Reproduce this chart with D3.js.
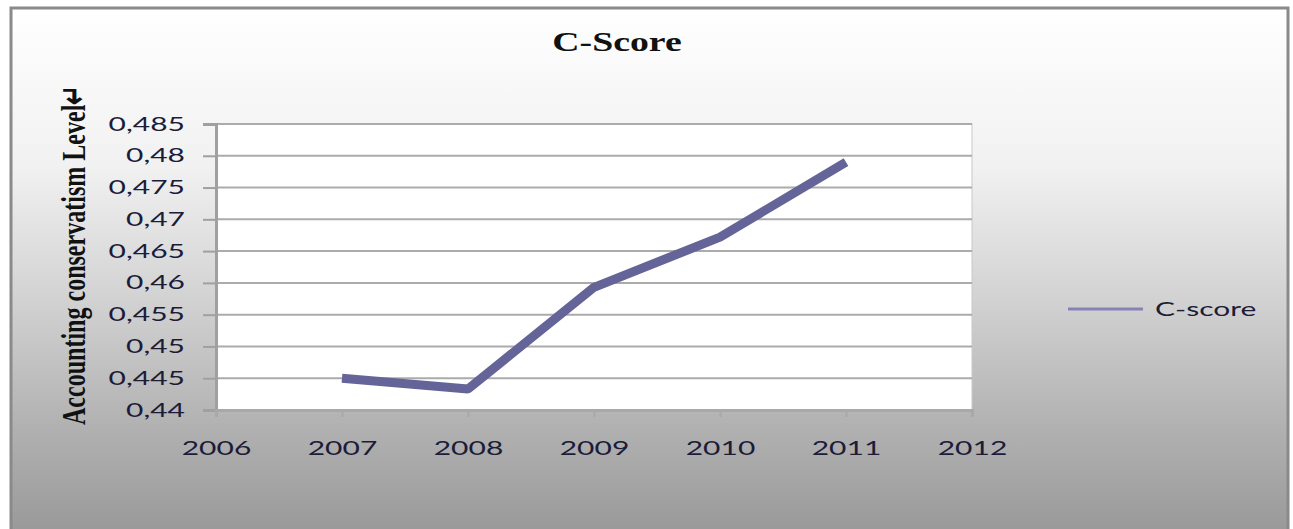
<!DOCTYPE html>
<html>
<head>
<meta charset="utf-8">
<script src="https://cdn.jsdelivr.net/npm/d3@7"></script>
<style>
  body { margin: 0; background: #fff; }
  svg { display: block; }
</style>
</head>
<body>
<div id="chart"></div>
<script>
// chart values
var years = [2007, 2008, 2009, 2010, 2011];
var cScore = [0.445, 0.4433, 0.4593, 0.4672, 0.479];
var yTicks = [0.44, 0.445, 0.45, 0.455, 0.46, 0.465, 0.47, 0.475, 0.48, 0.485];
var xTicks = [2006, 2007, 2008, 2009, 2010, 2011, 2012];
var seriesName = "C-score";

var svgWidth = 1293;
var svgHeight = 529;

// the source picture is stretched sideways, text gets the same stretch
var stretch = 1.5;

var plot = { left: 216, right: 972, top: 124, bottom: 410 };

var svg = d3.select("#chart")
  .append("svg")
  .attr("width", svgWidth)
  .attr("height", svgHeight);

var defs = svg.append("defs");
var grad = defs.append("linearGradient")
  .attr("id", "bg")
  .attr("x1", 0).attr("y1", 0).attr("x2", 0).attr("y2", 1);
grad.append("stop").attr("offset", "0%").attr("stop-color", "#ffffff");
grad.append("stop").attr("offset", "30%").attr("stop-color", "#f1f1f1");
grad.append("stop").attr("offset", "55%").attr("stop-color", "#d2d2d2");
grad.append("stop").attr("offset", "80%").attr("stop-color", "#b0b0b0");
grad.append("stop").attr("offset", "100%").attr("stop-color", "#989898");

// outer chart frame
svg.append("rect")
  .attr("x", 11).attr("y", 8)
  .attr("width", 1277).attr("height", 530)
  .attr("fill", "url(#bg)")
  .attr("stroke", "#8a8a8a")
  .attr("stroke-width", 3);

// plot area
svg.append("rect")
  .attr("x", plot.left).attr("y", plot.top)
  .attr("width", plot.right - plot.left)
  .attr("height", plot.bottom - plot.top)
  .attr("fill", "#ffffff")
  .attr("stroke", "#c8c8c8")
  .attr("stroke-width", 1);

var x = d3.scaleLinear()
  .domain([2006, 2012])
  .range([plot.left, plot.right]);

var y = d3.scaleLinear()
  .domain([0.44, 0.485])
  .range([plot.bottom, plot.top]);

// gridlines
svg.append("g")
  .selectAll("line")
  .data(yTicks.slice(1))
  .enter()
  .append("line")
  .attr("x1", plot.left).attr("x2", plot.right)
  .attr("y1", d => y(d)).attr("y2", d => y(d))
  .attr("stroke", "#ababab")
  .attr("stroke-width", 2);

// y axis
var leftAxis = d3.axisLeft(y)
  .tickValues(yTicks)
  .tickSize(13)
  .tickFormat(d => d3.format("")(+d.toFixed(3)).replace(".", ","));

var yAxisG = svg.append("g")
  .attr("transform", `translate(${plot.left}, 0)`)
  .call(leftAxis);
yAxisG.select(".domain").attr("stroke", "#a0a0a0").attr("stroke-width", 3);
yAxisG.selectAll(".tick line").attr("stroke", "#a0a0a0").attr("stroke-width", 2);
yAxisG.selectAll(".tick text")
  .attr("x", 0)
  .attr("dy", null)
  .attr("dominant-baseline", "middle")
  .attr("transform", `translate(-31, 1) scale(${stretch}, 1)`)
  .attr("fill", "#1c1c38")
  .style("font-family", "Lato, 'Open Sans', sans-serif")
  .style("font-size", "20px");

// x axis
var bottomAxis = d3.axisBottom(x)
  .tickValues(xTicks)
  .tickSize(7)
  .tickFormat(d3.format("d"));

var xAxisG = svg.append("g")
  .attr("transform", `translate(0, ${plot.bottom})`)
  .call(bottomAxis);
xAxisG.select(".domain").attr("stroke", "#a8a8a8").attr("stroke-width", 3);
xAxisG.selectAll(".tick line").attr("stroke", "#a8a8a8").attr("stroke-width", 2);
xAxisG.selectAll(".tick text")
  .attr("y", 0)
  .attr("dy", null)
  .attr("transform", `translate(0, 45) scale(${stretch}, 1)`)
  .attr("fill", "#1c1c38")
  .style("font-family", "Lato, 'Open Sans', sans-serif")
  .style("font-size", "20px");
svg.selectAll(".domain").attr("d", function() { return d3.select(this).attr("d"); });

// series line
var line = d3.line()
  .x((d, i) => x(years[i]))
  .y(d => y(d));

svg.append("path")
  .datum(cScore)
  .attr("d", line)
  .attr("fill", "none")
  .attr("stroke", "#656498")
  .attr("stroke-width", 9)
  .attr("stroke-linejoin", "bevel");

// title
svg.append("text")
  .attr("transform", `translate(617, 51) scale(1.4, 1)`)
  .attr("text-anchor", "middle")
  .style("font-family", "'Liberation Serif', 'DejaVu Serif', serif")
  .style("font-weight", "bold")
  .style("font-size", "27px")
  .attr("fill", "#111")
  .text("C-Score");

// y axis title
svg.append("text")
  .attr("transform", `translate(85, 255) scale(${stretch}, 1) rotate(-90)`)
  .attr("text-anchor", "middle")
  .attr("textLength", 340)
  .attr("lengthAdjust", "spacingAndGlyphs")
  .style("font-family", "'Liberation Serif', serif")
  .style("font-weight", "bold")
  .style("font-size", "23px")
  .attr("fill", "#111")
  .text("Accounting conservatism Level\u21B5");

// legend
var legend = svg.append("g").attr("transform", "translate(1068, 309)");
legend.append("line")
  .attr("x1", 0).attr("x2", 75)
  .attr("y1", 0).attr("y2", 0)
  .attr("stroke", "#8583b3")
  .attr("stroke-width", 3);
legend.append("text")
  .attr("transform", `translate(87, 7) scale(${stretch}, 1)`)
  .style("font-family", "Lato, 'Open Sans', sans-serif")
  .style("font-size", "20px")
  .attr("fill", "#1c1c38")
  .text(seriesName);
</script>
</body>
</html>
